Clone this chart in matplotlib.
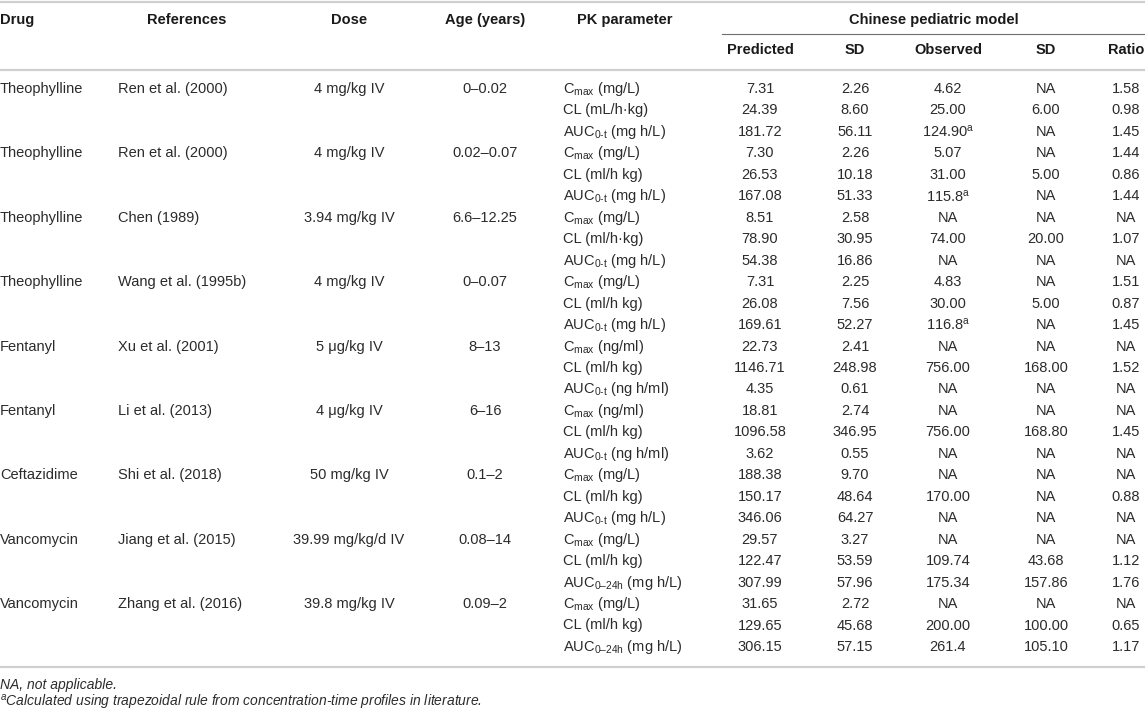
import matplotlib
matplotlib.use("Agg")
import matplotlib.pyplot as plt

plt.rcParams['font.family'] = ['Liberation Sans', 'DejaVu Sans']
plt.rcParams['mathtext.fontset'] = 'custom'
plt.rcParams['mathtext.rm'] = 'Liberation Sans'
plt.rcParams['mathtext.it'] = 'Liberation Sans:italic'

# table content
drugs = ["Theophylline", "Theophylline", "Theophylline", "Theophylline", "Fentanyl",
         "Fentanyl", "Ceftazidime", "Vancomycin", "Vancomycin"]
refs = ["Ren et al. (2000)", "Ren et al. (2000)", "Chen (1989)", "Wang et al. (1995b)",
        "Xu et al. (2001)", "Li et al. (2013)", "Shi et al. (2018)", "Jiang et al. (2015)",
        "Zhang et al. (2016)"]
doses = ["4 mg/kg IV", "4 mg/kg IV", "3.94 mg/kg IV", "4 mg/kg IV", "5 μg/kg IV",
         "4 μg/kg IV", "50 mg/kg IV", "39.99 mg/kg/d IV", "39.8 mg/kg IV"]
ages = ["0–0.02", "0.02–0.07", "6.6–12.25", "0–0.07", "8–13", "6–16", "0.1–2", "0.08–14", "0.09–2"]

cmax_units = ["mg/L", "mg/L", "mg/L", "mg/L", "ng/ml", "ng/ml", "mg/L", "mg/L", "mg/L"]
cl_units = ["mL/h·kg", "ml/h kg", "ml/h·kg", "ml/h kg", "ml/h kg", "ml/h kg", "ml/h kg", "ml/h kg", "ml/h kg"]
auc_subs = ["0-t", "0-t", "0-t", "0-t", "0-t", "0-t", "0-t", "0–24h", "0–24h"]
auc_units = ["mg h/L", "mg h/L", "mg h/L", "mg h/L", "ng h/ml", "ng h/ml", "mg h/L", "mg h/L", "mg h/L"]

predicted = ["7.31", "24.39", "181.72", "7.30", "26.53", "167.08", "8.51", "78.90", "54.38",
             "7.31", "26.08", "169.61", "22.73", "1146.71", "4.35", "18.81", "1096.58", "3.62",
             "188.38", "150.17", "346.06", "29.57", "122.47", "307.99", "31.65", "129.65", "306.15"]
sd_pred = ["2.26", "8.60", "56.11", "2.26", "10.18", "51.33", "2.58", "30.95", "16.86",
           "2.25", "7.56", "52.27", "2.41", "248.98", "0.61", "2.74", "346.95", "0.55",
           "9.70", "48.64", "64.27", "3.27", "53.59", "57.96", "2.72", "45.68", "57.15"]
observed = ["4.62", "25.00", "124.90", "5.07", "31.00", "115.8", "NA", "74.00", "NA",
            "4.83", "30.00", "116.8", "NA", "756.00", "NA", "NA", "756.00", "NA",
            "NA", "170.00", "NA", "NA", "109.74", "175.34", "NA", "200.00", "261.4"]
obs_note = [0, 0, 1, 0, 0, 1, 0, 0, 0, 0, 0, 1, 0, 0, 0, 0, 0, 0,
            0, 0, 0, 0, 0, 0, 0, 0, 0]
sd_obs = ["NA", "6.00", "NA", "NA", "5.00", "NA", "NA", "20.00", "NA",
          "NA", "5.00", "NA", "NA", "168.00", "NA", "NA", "168.80", "NA",
          "NA", "NA", "NA", "NA", "43.68", "157.86", "NA", "100.00", "105.10"]
ratio = ["1.58", "0.98", "1.45", "1.44", "0.86", "1.44", "NA", "1.07", "NA",
         "1.51", "0.87", "1.45", "NA", "1.52", "NA", "NA", "1.45", "NA",
         "NA", "0.88", "NA", "NA", "1.12", "1.76", "NA", "0.65", "1.17"]

headers = ["Drug", "References", "Dose", "Age (years)", "PK parameter"]
sub_headers = ["Predicted", "SD", "Observed", "SD", "Ratio"]
group_title = "Chinese pediatric model"
footnotes = ["NA, not applicable.",
             "$^{\\mathit{a}}$Calculated using trapezoidal rule from concentration-time profiles in literature."]

# layout (pixel coordinates)
W, H = 1145, 712
fs = 10.5
txt = '#2b2b2b'
head_c = '#1a1a1a'
line_c = '#cfcfcf'
col_x = [0, 118, 349, 485, 563]
head_x = [0, 187, 349, 485, 625]
num_x = [760, 855, 948, 1046, 1126]
row0, pitch = 89, 21.46

fig = plt.figure(figsize=(W / 100, H / 100), dpi=100)
ax = fig.add_axes([0, 0, 1, 1])
ax.set_xlim(0, W)
ax.set_ylim(H, 0)
ax.axis('off')

# rules
ax.plot([0, W], [1.5, 1.5], color=line_c, lw=1.6)
ax.plot([722, W], [34, 34], color='#6e6e6e', lw=0.8)
ax.plot([0, W], [70, 70], color=line_c, lw=1.6)
ax.plot([0, W], [667, 667], color=line_c, lw=1.6)

# headers
for i, h in enumerate(headers):
    ha = 'left' if i == 0 else 'center'
    ax.text(head_x[i], 20, h, ha=ha, va='center', fontsize=fs, fontweight='bold', color=head_c)
ax.text(934, 20, group_title, ha='center', va='center', fontsize=fs, fontweight='bold', color=head_c)
for x, h in zip(num_x, sub_headers):
    ax.text(x, 50, h, ha='center', va='center', fontsize=fs, fontweight='bold', color=head_c)

# group cells
for g in range(len(drugs)):
    y = row0 + 3 * g * pitch
    ax.text(col_x[0], y, drugs[g], ha='left', va='center', fontsize=fs, color=txt)
    ax.text(col_x[1], y, refs[g], ha='left', va='center', fontsize=fs, color=txt)
    ax.text(col_x[2], y, doses[g], ha='center', va='center', fontsize=fs, color=txt)
    ax.text(col_x[3], y, ages[g], ha='center', va='center', fontsize=fs, color=txt)
    params = [
        "C$_{\\mathrm{max}}$ (%s)" % cmax_units[g],
        "CL (%s)" % cl_units[g],
        "AUC$_{\\text{%s}}$ (%s)" % (auc_subs[g], auc_units[g]),
    ]
    for k, p in enumerate(params):
        ax.text(col_x[4], y + k * pitch, p, ha='left', va='center', fontsize=fs, color=txt)

# numeric cells
for r in range(len(predicted)):
    y = row0 + r * pitch
    obs = observed[r] + ("$^{\\mathrm{a}}$" if obs_note[r] else "")
    vals = [predicted[r], sd_pred[r], obs, sd_obs[r], ratio[r]]
    for x, v in zip(num_x, vals):
        ax.text(x, y, v, ha='center', va='center', fontsize=fs, color=txt)

# footnotes
ax.text(0, 685, footnotes[0], ha='left', va='center', fontsize=10, style='italic', color=txt)
ax.text(0, 703, footnotes[1], ha='left', va='center', fontsize=10, style='italic', color=txt)

fig.savefig("out.png", dpi=100)
